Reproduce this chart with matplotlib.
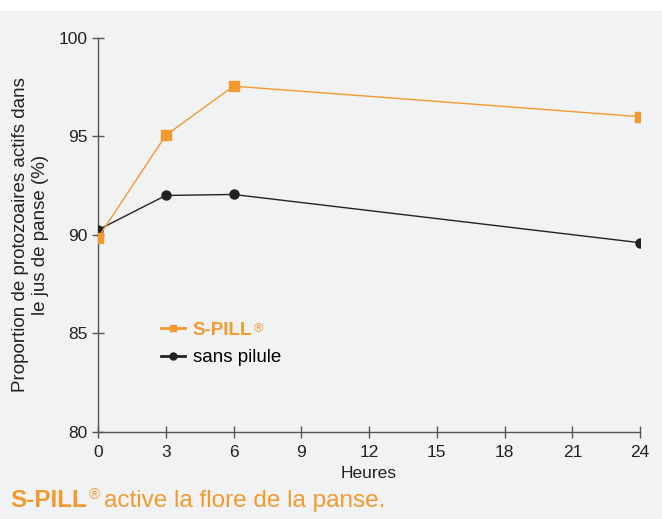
import matplotlib
matplotlib.use("Agg")
import matplotlib.pyplot as plt
from matplotlib.lines import Line2D

plt.rcParams['font.family'] = ['Liberation Sans', 'DejaVu Sans']

# ----------------------------------------------------------------
# data
# ----------------------------------------------------------------
heures = [0, 3, 6, 24]
s_pill = [89.85, 95.05, 97.55, 96.0]
sans_pilule = [90.25, 92.0, 92.05, 89.6]
x_ticks = [0, 3, 6, 9, 12, 15, 18, 21, 24]
y_ticks = [80, 85, 90, 95, 100]

orange = '#f39a2e'
bg = '#f1f2f4'
axis_col = '#555555'

fig = plt.figure(figsize=(6.62, 5.19), dpi=100)
fig.patch.set_facecolor('white')
# grey panel below the thin white band at the top
fig.add_artist(plt.Rectangle((0, 0), 1, 1 - 11 / 519, transform=fig.transFigure,
                             facecolor=bg, edgecolor='none', zorder=0))

ax = fig.add_axes([0.148, 0.168, 0.819, 0.759])
ax.set_facecolor('none')

ax.plot(heures, sans_pilule, color='#222222', lw=1, marker='o', ms=6.5,
        label='sans pilule', zorder=3)
ax.plot(heures, s_pill, color=orange, lw=1, marker='s', ms=6.5,
        label='S-PILL', zorder=4)

ax.set_xlim(0, 24)
ax.set_ylim(80, 100)
ax.set_xticks(x_ticks)
ax.set_yticks(y_ticks)
for side in ['top', 'right']:
    ax.spines[side].set_visible(False)
for side in ['left', 'bottom']:
    ax.spines[side].set_color(axis_col)
    ax.spines[side].set_linewidth(1)
    ax.spines[side].set_clip_on(False)
ax.tick_params(direction='inout', length=9, width=1, color=axis_col,
               labelsize=12.5, labelcolor='#222222', pad=3)
ax.tick_params(axis='x', pad=5)

ax.set_xlabel('Heures', fontsize=12.5, color='#222222', labelpad=4)
ax.set_ylabel('Proportion de protozoaires actifs dans\nle jus de panse (%)',
              fontsize=13.5, color='#222222', labelpad=7, linespacing=1.2)

# legend with smaller markers than the plot
leg_handles = [Line2D([], [], color=orange, lw=2, marker='s', ms=5),
               Line2D([], [], color='#222222', lw=2, marker='o', ms=5)]
leg = ax.legend(leg_handles, ['S-PILL', 'sans pilule'], loc='upper left',
                bbox_to_anchor=(0.085, 0.322), frameon=False, fontsize=13.5,
                handlelength=1.3, handletextpad=0.4, labelspacing=0.55)
txts = leg.get_texts()
txts[0].set_color(orange)
txts[0].set_fontweight('bold')

fig.canvas.draw()
r = fig.canvas.get_renderer()
inv = fig.transFigure.inverted()

# registered sign after the legend label
bb = txts[0].get_window_extent(r)
p = inv.transform((bb.x1 + 1, bb.y1 - 1))
fig.text(p[0], p[1], '®', color=orange, fontsize=9, va='top')

# caption at the bottom
t1 = fig.text(0.016, 0.023, 'S-PILL', color=orange, fontsize=17.5,
              fontweight='bold', va='baseline')
bb = t1.get_window_extent(r)
p = inv.transform((bb.x1 + 1, bb.y1 + 1))
t2 = fig.text(p[0], p[1], '®', color=orange, fontsize=11, va='top')
bb2 = t2.get_window_extent(r)
p2 = inv.transform((bb2.x1 + 4, 0))
fig.text(p2[0], 0.023, 'active la flore de la panse.', color=orange,
         fontsize=17.5, va='baseline')

fig.savefig('out.png', dpi=100, facecolor=fig.get_facecolor())
